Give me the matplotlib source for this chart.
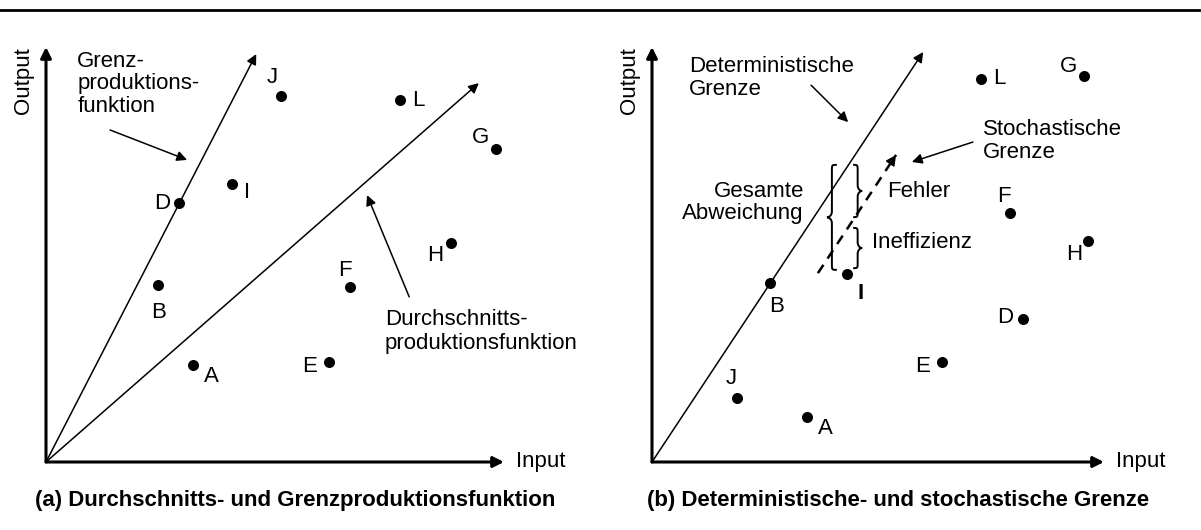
import matplotlib.pyplot as plt
from matplotlib.path import Path
from matplotlib.patches import PathPatch
from matplotlib.lines import Line2D

plt.rcParams['font.family'] = ['Liberation Sans', 'DejaVu Sans']

# (a) Betriebe: Input / Output
labels_a = ['A', 'B', 'D', 'E', 'F', 'G', 'H', 'I', 'J', 'L']
input_a = [3.21, 2.45, 2.90, 6.18, 6.64, 9.83, 8.84, 4.06, 5.13, 7.73]
output_a = [2.34, 4.27, 6.24, 2.41, 4.22, 7.54, 5.28, 6.70, 8.82, 8.72]
# Strahlen aus dem Ursprung (Endpunkte)
grenz_a = (4.59, 9.83)
durch_a = (9.45, 9.13)

# (b) Betriebe: Input / Output
labels_b = ['A', 'B', 'D', 'E', 'F', 'G', 'H', 'I', 'J', 'L']
input_b = [3.43, 2.61, 8.21, 6.42, 7.92, 9.56, 9.65, 4.31, 1.88, 7.28]
output_b = [1.08, 4.31, 3.45, 2.41, 6.00, 9.30, 5.33, 4.53, 1.54, 9.23]
det_b = (6.0, 9.88)
stoch_x = [3.67, 5.40]
stoch_y = [4.55, 7.40]

# Versatz der Buchstaben (in Punkten)
off_a = {'A': (13, -8), 'B': (0, -20), 'D': (-12, 0), 'E': (-14, -3),
         'F': (-4, 12), 'G': (-11, 8), 'H': (-11, -9), 'I': (11, -6),
         'J': (-6, 13), 'L': (13, 0)}
off_b = {'A': (13, -8), 'B': (5, -17), 'D': (-13, 1), 'E': (-14, -3),
         'F': (-4, 12), 'G': (-11, 7), 'H': (-10, -10), 'I': (10, -14),
         'J': (-4, 14), 'L': (13, 0)}

FS = 16

fig = plt.figure(figsize=(12.01, 5.30), dpi=100)
fig.add_artist(Line2D([0, 1], [1 - 10 / 530] * 2, transform=fig.transFigure,
                      color='k', lw=2))

ax1 = fig.add_axes([46 / 1201, 68 / 530, 458 / 1201, 415 / 530])
ax2 = fig.add_axes([652 / 1201, 68 / 530, 452 / 1201, 415 / 530])


def pfeil(ax, start, ende, lw=1.1, ms=15, ls='-'):
    ax.annotate('', xy=ende, xytext=start,
                arrowprops=dict(arrowstyle='-|>', lw=lw, color='k',
                                mutation_scale=ms, shrinkA=0, shrinkB=0,
                                linestyle=ls),
                annotation_clip=False)


def achsen(ax, titel):
    ax.set_xlim(0, 10)
    ax.set_ylim(0, 10)
    ax.axis('off')
    pfeil(ax, (0, 0), (10, 0), lw=2.2, ms=16)
    pfeil(ax, (0, 0), (0, 10), lw=2.2, ms=16)
    ax.text(10.27, 0, 'Input', fontsize=FS, ha='left', va='center')
    ax.text(-0.5, 9.2, 'Output', fontsize=FS, ha='center', va='center',
            rotation=90)
    ax.text(5.45, -0.92, titel, fontsize=FS, fontweight='bold',
            ha='center', va='center')


def punkte(ax, xs, ys, labels, off, bold=()):
    ax.scatter(xs, ys, s=48, color='k', zorder=5, clip_on=False)
    for x, y, lab in zip(xs, ys, labels):
        ax.annotate(lab, (x, y), xytext=off[lab], textcoords='offset points',
                    fontsize=FS, ha='center', va='center',
                    fontweight='bold' if lab in bold else 'normal')


def klammer(ax, x, y_lo, y_hi, w, d, lw=1.4):
    ym = (y_lo + y_hi) / 2
    q = 0.14
    s = x + d * w / 2
    t = x + d * w
    verts = [(x, y_hi),
             (s, y_hi), (s, y_hi), (s, y_hi - q),
             (s, ym + q),
             (s, ym + q * 0.4), (x + d * w * 0.75, ym), (t, ym),
             (x + d * w * 0.75, ym), (s, ym - q * 0.4), (s, ym - q),
             (s, y_lo + q),
             (s, y_lo), (s, y_lo), (x, y_lo)]
    codes = ([Path.MOVETO] + [Path.CURVE4] * 3 + [Path.LINETO]
             + [Path.CURVE4] * 6 + [Path.LINETO] + [Path.CURVE4] * 3)
    ax.add_patch(PathPatch(Path(verts, codes), fill=False, lw=lw,
                           clip_on=False))


# ---- (a)
achsen(ax1, '(a) Durchschnitts- und Grenzproduktionsfunktion')
pfeil(ax1, (0, 0), grenz_a, lw=1.1, ms=15)
pfeil(ax1, (0, 0), durch_a, lw=1.1, ms=15)
punkte(ax1, input_a, output_a, labels_a, off_a)
ax1.text(0.68, 9.11, 'Grenz-\nproduktions-\nfunktion', fontsize=FS,
         ha='left', va='center', linespacing=1.1)
pfeil(ax1, (1.40, 8.0), (3.08, 7.28))
ax1.text(7.40, 3.14, 'Durchschnitts-\nproduktionsfunktion', fontsize=FS,
         ha='left', va='center', linespacing=1.15)
pfeil(ax1, (7.93, 3.98), (7.01, 6.43))

# ---- (b)
achsen(ax2, '(b) Deterministische- und stochastische Grenze')
pfeil(ax2, (0, 0), det_b, lw=1.1, ms=15)
ax2.plot(stoch_x, stoch_y, color='k', lw=1.8, ls=(0, (4, 3)))
pfeil(ax2, (stoch_x[1] - 0.1, stoch_y[1] - 0.16), (stoch_x[1], stoch_y[1]),
      lw=1.0, ms=16)
punkte(ax2, input_b, output_b, labels_b, off_b, bold=('I',))
ax2.text(0.82, 9.25, 'Deterministische\nGrenze', fontsize=FS,
         ha='left', va='center', linespacing=1.15)
pfeil(ax2, (3.52, 9.08), (4.34, 8.19))
ax2.text(7.32, 7.73, 'Stochastische\nGrenze', fontsize=FS,
         ha='left', va='center', linespacing=1.15)
pfeil(ax2, (7.10, 7.71), (5.75, 7.23))
ax2.text(3.36, 6.25, 'Gesamte\nAbweichung', fontsize=FS,
         ha='right', va='center', linespacing=1.1, multialignment='right')
ax2.text(5.20, 6.51, 'Fehler', fontsize=FS, ha='left', va='center')
ax2.text(4.87, 5.28, 'Ineffizienz', fontsize=FS, ha='left', va='center')
klammer(ax2, 4.09, 4.63, 7.16, 0.22, -1)
klammer(ax2, 4.45, 5.90, 7.16, 0.20, 1)
klammer(ax2, 4.45, 4.67, 5.64, 0.20, 1)

fig.savefig('out.png', dpi=100)
